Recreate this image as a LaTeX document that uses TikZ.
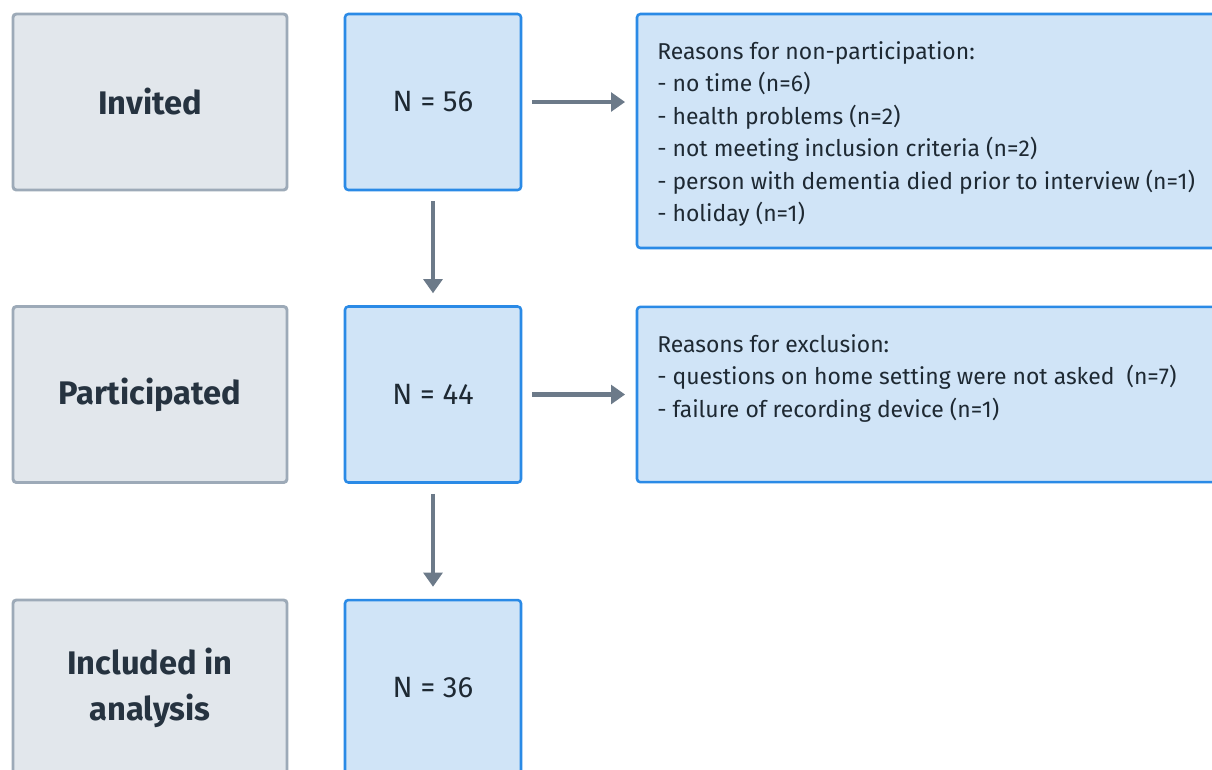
\documentclass[tikz,border=0pt]{standalone}
\usepackage{fontspec}
\setmainfont{Fira Sans}
\usetikzlibrary{arrows.meta}
\definecolor{grayfill}{HTML}{E2E7EC}
\definecolor{grayline}{HTML}{9DAAB8}
\definecolor{bluefill}{HTML}{D0E4F7}
\definecolor{blueline}{HTML}{2A8AE6}
\definecolor{arrowcol}{HTML}{6C7A89}
\definecolor{textdark}{HTML}{263340}
\tikzset{
  labelbox/.style={draw=grayline, fill=grayfill, line width=2.2pt, rounded corners=2.5pt,
    minimum width=205.5pt, minimum height=132pt, align=center, text=textdark,
    font=\fontsize{24.5}{34}\selectfont\bfseries},
  countbox/.style={draw=blueline, fill=bluefill, line width=1.9pt, rounded corners=2.5pt,
    minimum width=132pt, minimum height=132pt, align=center, text=textdark!80!black,
    font=\fontsize{22}{26}\selectfont},
  reasonbox/.style={draw=blueline, fill=bluefill, line width=1.9pt, rounded corners=2.5pt,
    minimum width=450pt},
  reasontext/.style={anchor=north west, inner sep=0pt, align=left, text=textdark!80!black,
    font=\fontsize{17.2}{24.4}\selectfont},
  arr/.style={draw=arrowcol, line width=3.6pt, -{Triangle[width=14pt,length=10.5pt]}}
}
\begin{document}
\begin{tikzpicture}[x=0.75pt,y=-0.75pt]
\useasboundingbox (0,0) rectangle (1212,769);
\clip (0,0) rectangle (1212,769);
\fill[white] (0,0) rectangle (1212,769);
% left labels
\node[labelbox] (l1) at (150,102) {Invited};
\node[labelbox] (l2) at (150,394.5) {Participated};
\node[labelbox] (l3) at (150,688) {Included in\\analysis};
% counts
\node[countbox] (b1) at (433,102) {N = 56};
\node[countbox] (b2) at (433,394.5) {N = 44};
\node[countbox] (b3) at (433,688) {N = 36};
% reason boxes
\node[reasonbox, minimum height=175.5pt] (r1) at (937,131) {};
\node[reasonbox, minimum height=131.5pt] (r2) at (937,394.5) {};
\node[reasontext] (t1) at (657,41) {Reasons for non-participation:\\
- no time (n=6)\\
- health problems (n=2)\\
- not meeting inclusion criteria (n=2)\\
- person with dementia died prior to interview (n=1)\\
- holiday (n=1)};
\node[reasontext] (t2) at (657,334) {Reasons for exclusion:\\
- questions on home setting were not asked~ (n=7)\\
- failure of recording device (n=1)};
% arrows
\draw[arr, shorten <=7.5pt, shorten >=8pt] (b1.east) -- (b1.east -| r1.west);
\draw[arr, shorten <=7.5pt, shorten >=8pt] (b2.east) -- (b2.east -| r2.west);
\draw[arr, shorten <=7.5pt, shorten >=9pt] (b1.south) -- (b2.north);
\draw[arr, shorten <=7.5pt, shorten >=9pt] (b2.south) -- (b3.north);
\end{tikzpicture}
\end{document}
